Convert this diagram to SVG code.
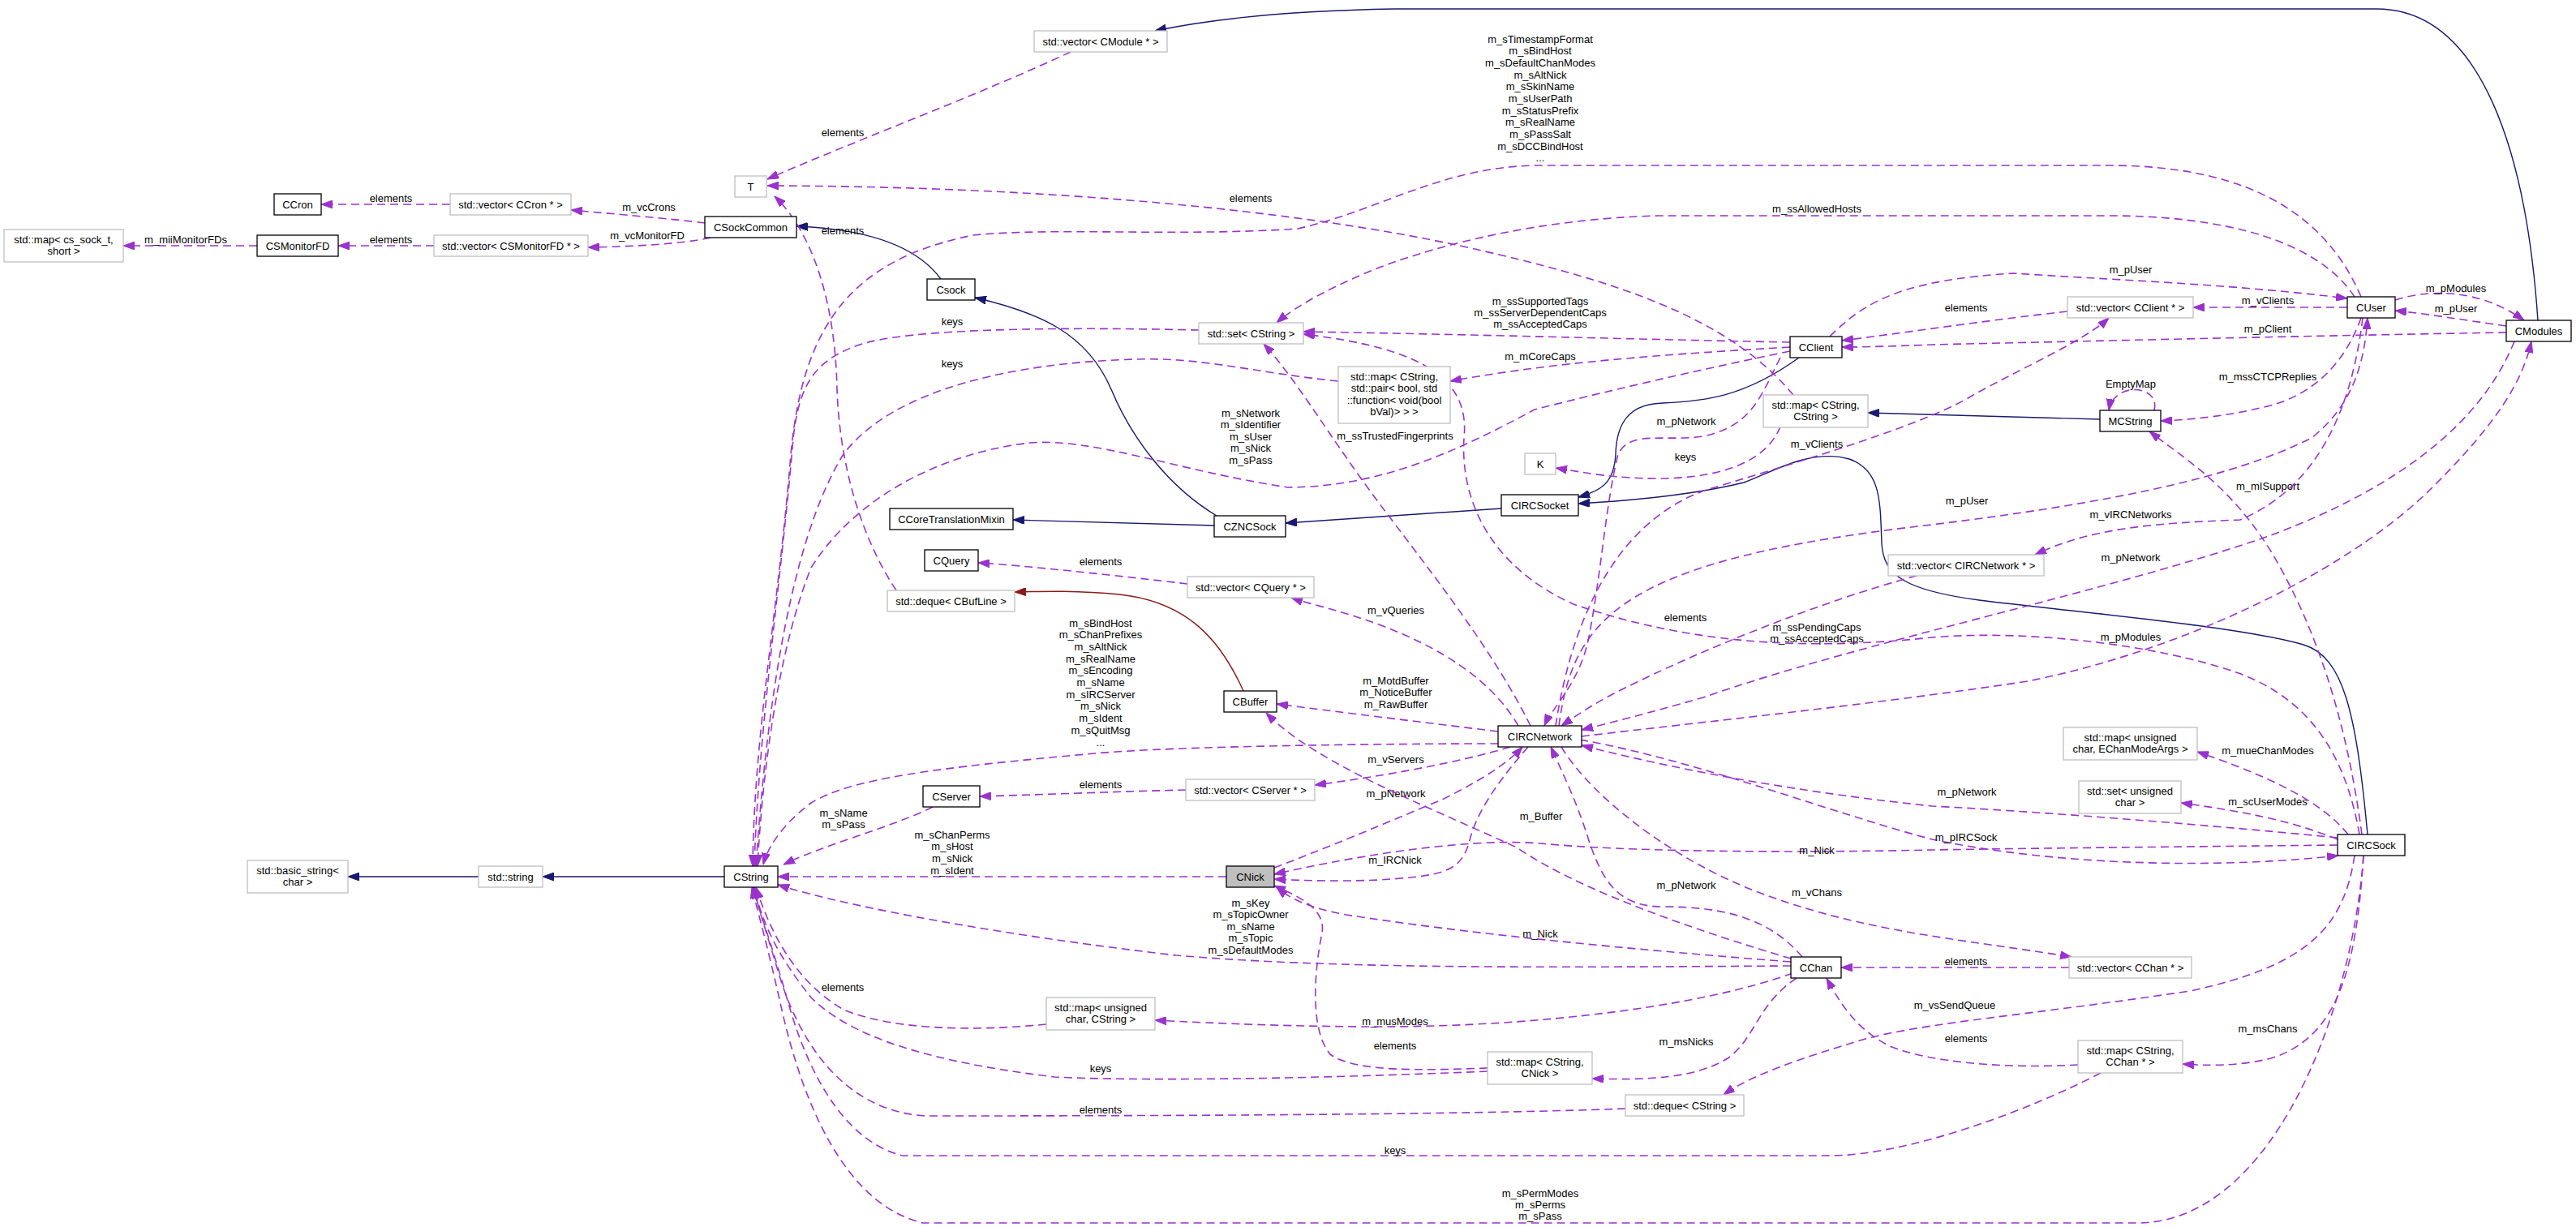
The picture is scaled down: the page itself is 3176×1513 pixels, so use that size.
<svg xmlns="http://www.w3.org/2000/svg" width="3176" height="1513" viewBox="0 0 3176 1513">
<defs>
<style>
text{font-family:"Liberation Sans",Arial,Helvetica,sans-serif;font-size:13px;fill:#000}
.nd rect{fill:#fff;stroke:#000;stroke-width:1.3}
.gr rect{fill:#fff;stroke:#bfbfbf;stroke-width:1.3}
.fc rect{fill:#bfbfbf;stroke:#000;stroke-width:1.3}
.nd text,.gr text,.fc text,.lb{text-anchor:middle}
.e{fill:none;stroke:#9a32cd;stroke-width:1.6;stroke-dasharray:10 6;marker-end:url(#ap)}
.i{fill:none;stroke:#191970;stroke-width:1.4;marker-end:url(#an)}
.r{fill:none;stroke:#8b1a1a;stroke-width:1.4;marker-end:url(#ar)}
</style>
<marker id="ap" viewBox="0 0 14 10" refX="14" refY="5" markerWidth="14" markerHeight="10" markerUnits="userSpaceOnUse" orient="auto"><path d="M0,0 L14,5 L0,10 z" fill="#9a32cd" stroke="#9a32cd" stroke-width="1"/></marker>
<marker id="an" viewBox="0 0 14 10" refX="14" refY="5" markerWidth="14" markerHeight="10" markerUnits="userSpaceOnUse" orient="auto"><path d="M0,0 L14,5 L0,10 z" fill="#191970" stroke="#191970" stroke-width="1"/></marker>
<marker id="ar" viewBox="0 0 14 10" refX="14" refY="5" markerWidth="14" markerHeight="10" markerUnits="userSpaceOnUse" orient="auto"><path d="M0,0 L14,5 L0,10 z" fill="#8b1a1a" stroke="#8b1a1a" stroke-width="1"/></marker>
</defs>
<rect width="3176" height="1513" fill="#fff"/>

<g id="edges">
<!-- inheritance -->
<path class="i" d="M1160,344 C1135,310 1085,283 982,279"/>
<path class="i" d="M1500,636 C1440,600 1395,540 1370,480 C1340,410 1280,385 1202,367"/>
<path class="i" d="M1497,648 L1249,641"/>
<path class="i" d="M1851,627 L1585,645"/>
<path class="i" d="M2218,441 C2150,490 2100,495 2050,497 C2010,498 1993,520 1992,560 C1990,595 1975,605 1946,613"/>
<path class="i" d="M2919,1029 C2905,880 2890,810 2840,795 C2760,772 2560,755 2440,740 C2350,728 2322,710 2320,670 C2318,620 2320,580 2280,566 C2230,552 2180,585 2150,595 C2080,612 2000,618 1946,621"/>
<path class="i" d="M2589,517 L2303,509"/>
<path class="i" d="M3129,395 C3115,190 3060,11 2930,11 L1720,11 C1600,13 1500,22 1424,38"/>
<path class="i" d="M893,1081 L669,1081"/>
<path class="i" d="M590,1081 L429,1081"/>
<path class="r" d="M1533,852 C1505,790 1465,742 1380,733 C1330,728 1290,729 1251,730"/>

<!-- usage -->
<g id="e_vcron_ccron"><path class="e" d="M555,252 L396,252"/><text class="lb" x="482" y="248.5">elements</text></g>
<g id="e_csmon_map"><path class="e" d="M317,303 L152,303"/><text class="lb" x="229" y="299.5">m_miiMonitorFDs</text></g>
<g id="e_vmon_csmon"><path class="e" d="M535,303 L417,303"/><text class="lb" x="482" y="299.5">elements</text></g>
<g id="e_common_vcron"><path class="e" d="M869,275 C830,270 760,264 704,259"/><text class="lb" x="800" y="259.5">m_vcCrons</text></g>
<g id="e_common_vmon"><path class="e" d="M876,293 C840,301 780,304 725,305"/><text class="lb" x="798" y="294.5">m_vcMonitorFD</text></g>
<g id="e_vmod_t"><path class="e" d="M1320,64 C1200,120 1050,175 946,221"/><text class="lb" x="1039" y="167.5">elements</text></g>
<g id="e_mapcc_t"><path class="e" d="M2211,487 C2130,390 1990,345 1800,303 C1600,260 1300,230 946,229"/><text class="lb" x="1542" y="248.5">elements</text></g>
<g id="e_deque_t"><path class="e" d="M1105,728 C1060,660 1035,570 1032,480 C1030,380 1005,290 955,242"/><text class="lb" x="1039" y="288.5">elements</text></g>
<g id="e_mapcc_k"><path class="e" d="M2195,526 C2180,565 2130,590 2044,590 C1990,590 1955,583 1918,577"/><text class="lb" x="2078" y="567.5">keys</text></g>
<g id="e_user_cstring"><path class="e" d="M2911,366 C2870,270 2780,204 2600,204 L1899,204 C1780,204 1700,260 1600,282 C1450,292 1300,280 1200,290 C1050,320 990,400 975,560 C960,750 930,900 928,1068"/>
<text class="lb" x="1899" y="52.5"><tspan x="1899">m_sTimestampFormat</tspan><tspan x="1899" dy="14.7">m_sBindHost</tspan><tspan x="1899" dy="14.7">m_sDefaultChanModes</tspan><tspan x="1899" dy="14.7">m_sAltNick</tspan><tspan x="1899" dy="14.7">m_sSkinName</tspan><tspan x="1899" dy="14.7">m_sUserPath</tspan><tspan x="1899" dy="14.7">m_sStatusPrefix</tspan><tspan x="1899" dy="14.7">m_sRealName</tspan><tspan x="1899" dy="14.7">m_sPassSalt</tspan><tspan x="1899" dy="14.7">m_sDCCBindHost</tspan><tspan x="1899" dy="14.7">...</tspan></text></g>
<g id="e_set_cstring"><path class="e" d="M1478,407 C1300,403 1120,405 1060,425 C1000,445 985,480 978,540 C965,700 935,900 930,1068"/><text class="lb" x="1174" y="400.5">keys</text></g>
<g id="e_mappair_cstring"><path class="e" d="M1650,470 C1550,460 1480,440 1400,443 C1250,447 1100,480 1040,560 C990,640 950,800 932,1068"/><text class="lb" x="1174" y="452.5">keys</text></g>
<g id="e_client_cstring"><path class="e" d="M2207,433 C2100,455 1990,480 1892,505 C1790,560 1700,600 1588,601 C1450,580 1350,540 1270,546 C1150,560 1050,620 1000,700 C960,800 940,950 934,1068"/>
<text class="lb" x="1542" y="513.5"><tspan x="1542">m_sNetwork</tspan><tspan x="1542" dy="14.5">m_sIdentifier</tspan><tspan x="1542" dy="14.5">m_sUser</tspan><tspan x="1542" dy="14.5">m_sNick</tspan><tspan x="1542" dy="14.5">m_sPass</tspan></text></g>
<g id="e_net_cstring"><path class="e" d="M1847,917 C1700,917 1450,920 1350,929 C1150,947 1050,960 1000,990 C960,1020 945,1050 941,1066"/>
<text class="lb" x="1357" y="772.5"><tspan x="1357">m_sBindHost</tspan><tspan x="1357" dy="14.7">m_sChanPrefixes</tspan><tspan x="1357" dy="14.7">m_sAltNick</tspan><tspan x="1357" dy="14.7">m_sRealName</tspan><tspan x="1357" dy="14.7">m_sEncoding</tspan><tspan x="1357" dy="14.7">m_sName</tspan><tspan x="1357" dy="14.7">m_sIRCServer</tspan><tspan x="1357" dy="14.7">m_sNick</tspan><tspan x="1357" dy="14.7">m_sIdent</tspan><tspan x="1357" dy="14.7">m_sQuitMsg</tspan><tspan x="1357" dy="14.7">...</tspan></text></g>
<g id="e_server_cstring"><path class="e" d="M1150,995 C1100,1020 1020,1040 966,1066"/><text class="lb" x="1040" y="1006.5"><tspan x="1040">m_sName</tspan><tspan x="1040" dy="14">m_sPass</tspan></text></g>
<g id="e_nick_cstring"><path class="e" d="M1512,1081 L959,1081"/><text class="lb" x="1174" y="1033.5"><tspan x="1174">m_sChanPerms</tspan><tspan x="1174" dy="14.7">m_sHost</tspan><tspan x="1174" dy="14.7">m_sNick</tspan><tspan x="1174" dy="14.7">m_sIdent</tspan></text></g>
<g id="e_chan_cstring"><path class="e" d="M2208,1191 C1900,1193 1650,1195 1450,1178 C1250,1155 1050,1120 959,1091"/><text class="lb" x="1542" y="1117.5"><tspan x="1542">m_sKey</tspan><tspan x="1542" dy="14.5">m_sTopicOwner</tspan><tspan x="1542" dy="14.5">m_sName</tspan><tspan x="1542" dy="14.5">m_sTopic</tspan><tspan x="1542" dy="14.5">m_sDefaultModes</tspan></text></g>
<g id="e_chan_nick"><path class="e" d="M2208,1186 C2000,1170 1800,1150 1660,1128 C1615,1120 1590,1108 1574,1094"/><text class="lb" x="1899" y="1155.5">m_Nick</text></g>
<g id="e_mapuc_cstring"><path class="e" d="M1290,1263 C1200,1272 1100,1270 1040,1245 C980,1210 950,1150 932,1094"/><text class="lb" x="1039" y="1221.5">elements</text></g>
<g id="e_mapnick_cstring"><path class="e" d="M1834,1321 C1600,1331 1400,1333 1300,1328 C1150,1310 1050,1280 1000,1230 C960,1180 940,1140 930,1094"/><text class="lb" x="1357" y="1321.5">keys</text></g>
<g id="e_mapnick_nick"><path class="e" d="M1834,1317 C1750,1320 1670,1322 1640,1300 C1615,1270 1620,1200 1630,1150 C1635,1120 1600,1105 1571,1092"/><text class="lb" x="1720" y="1293.5">elements</text></g>
<g id="e_dequecs_cstring"><path class="e" d="M2004,1367 C1800,1375 1400,1376 1140,1376 C1050,1370 990,1300 960,1200 C945,1150 935,1120 929,1094"/><text class="lb" x="1357" y="1372.5">elements</text></g>
<g id="e_mapchan_cstring"><path class="e" d="M2590,1323 C2500,1370 2350,1425 2256,1425 L1113,1425 C1050,1410 1000,1340 970,1230 C950,1160 935,1120 928,1094"/><text class="lb" x="1720" y="1422.5">keys</text></g>
<g id="e_sock_cstring"><path class="e" d="M2914,1055 C2900,1250 2800,1508 2635,1508 L1138,1508 C1060,1490 1000,1400 965,1250 C945,1160 933,1120 927,1094"/><text class="lb" x="1899" y="1475.5"><tspan x="1899">m_sPermModes</tspan><tspan x="1899" dy="14">m_sPerms</tspan><tspan x="1899" dy="14">m_sPass</tspan></text></g>
<g id="e_vserver_server"><path class="e" d="M1462,974 C1380,976 1280,980 1208,982"/><text class="lb" x="1357" y="971.5">elements</text></g>
<g id="e_vquery_query"><path class="e" d="M1464,720 C1380,710 1260,697 1206,694"/><text class="lb" x="1357" y="696.5">elements</text></g>
<g id="e_net_vquery"><path class="e" d="M1872,895 C1840,840 1780,800 1700,770 C1650,752 1615,745 1592,737"/><text class="lb" x="1721" y="756.5">m_vQueries</text></g>
<g id="e_net_buffer"><path class="e" d="M1847,902 C1750,890 1650,878 1574,868"/><text class="lb" x="1721" y="843.5"><tspan x="1721">m_MotdBuffer</tspan><tspan x="1721" dy="14.5">m_NoticeBuffer</tspan><tspan x="1721" dy="14.5">m_RawBuffer</tspan></text></g>
<g id="e_net_vserver"><path class="e" d="M1862,921 C1800,940 1700,958 1621,968"/><text class="lb" x="1721" y="940.5">m_vServers</text></g>
<g id="e_nick_net"><path class="e" d="M1571,1070 C1650,1040 1720,1010 1780,985 C1830,960 1860,940 1877,921"/><text class="lb" x="1721" y="982.5">m_pNetwork</text></g>
<g id="e_net_nick"><path class="e" d="M1884,921 C1850,960 1820,1000 1811,1040 C1800,1075 1780,1080 1700,1085 C1650,1087 1610,1086 1571,1084"/><text class="lb" x="1720" y="1064.5">m_IRCNick</text></g>
<g id="e_chan_buffer"><path class="e" d="M2208,1182 C2100,1150 1950,1100 1870,1045 C1750,990 1620,940 1561,879"/><text class="lb" x="1900" y="1010.5">m_Buffer</text></g>
<g id="e_chan_net"><path class="e" d="M2222,1180 C2180,1130 2120,1118 2050,1118 C1990,1118 1975,1080 1960,1040 C1945,990 1925,950 1912,921"/><text class="lb" x="2079" y="1095.5">m_pNetwork</text></g>
<g id="e_net_vchan"><path class="e" d="M1925,921 C1960,980 2060,1060 2170,1101 C2300,1150 2420,1158 2554,1180"/><text class="lb" x="2240" y="1104.5">m_vChans</text></g>
<g id="e_vchan_chan"><path class="e" d="M2551,1193 L2270,1193"/><text class="lb" x="2424" y="1189.5">elements</text></g>
<g id="e_chan_mapuc"><path class="e" d="M2210,1200 C2100,1240 1900,1266 1700,1266 C1600,1266 1500,1262 1424,1258"/><text class="lb" x="1720" y="1263.5">m_musModes</text></g>
<g id="e_chan_mapnick"><path class="e" d="M2215,1206 C2165,1240 2165,1280 2130,1305 C2090,1330 2030,1332 1963,1330"/><text class="lb" x="2079" y="1288.5">m_msNicks</text></g>
<g id="e_sock_dequecs"><path class="e" d="M2903,1055 C2890,1140 2850,1190 2700,1222 C2500,1252 2380,1260 2300,1281 C2220,1305 2160,1325 2125,1350"/><text class="lb" x="2410" y="1243.5">m_vsSendQueue</text></g>
<g id="e_mapchan_chan"><path class="e" d="M2562,1313 C2470,1318 2380,1310 2330,1290 C2290,1270 2270,1240 2252,1206"/><text class="lb" x="2424" y="1284.5">elements</text></g>
<g id="e_sock_mapchan"><path class="e" d="M2914,1055 C2905,1200 2880,1280 2800,1305 C2760,1315 2720,1314 2691,1312"/><text class="lb" x="2796" y="1272.5">m_msChans</text></g>
<g id="e_sock_mapecm"><path class="e" d="M2895,1029 C2860,985 2790,955 2709,927"/><text class="lb" x="2796" y="929.5">m_mueChanModes</text></g>
<g id="e_sock_setuc"><path class="e" d="M2882,1035 C2820,1010 2760,1000 2689,990"/><text class="lb" x="2796" y="992.5">m_scUserModes</text></g>
<g id="e_sock_net"><path class="e" d="M2882,1033 C2700,1015 2500,1000 2382,994 C2200,975 2050,945 1950,919"/><text class="lb" x="2425" y="980.5">m_pNetwork</text></g>
<g id="e_net_sock"><path class="e" d="M1948,912 C2100,940 2250,1000 2382,1035 C2550,1070 2750,1070 2883,1055"/><text class="lb" x="2424" y="1036.5">m_pIRCSock</text></g>
<g id="e_sock_nick"><path class="e" d="M2882,1042 C2700,1044 2500,1046 2382,1048 C2200,1052 2000,1050 1900,1040 C1800,1032 1650,1060 1571,1078"/><text class="lb" x="2240" y="1052.5">m_Nick</text></g>
<g id="e_sock_set"><path class="e" d="M2909,1029 C2890,920 2840,860 2760,830 C2660,795 2500,776 2382,786 C2250,800 2100,800 1940,745 C1840,700 1800,620 1805,540 C1812,470 1760,430 1607,412"/><text class="lb" x="2240" y="777.5"><tspan x="2240">m_ssPendingCaps</tspan><tspan x="2240" dy="14.7">m_ssAcceptedCaps</tspan></text></g>
<g id="e_sock_mcstring"><path class="e" d="M2912,1029 C2895,900 2860,780 2800,680 C2750,600 2700,570 2650,532"/><text class="lb" x="2796" y="603.5">m_mISupport</text></g>
<g id="e_modules_net"><path class="e" d="M3100,421 C3060,520 2960,600 2800,660 C2600,730 2300,790 2100,860 C2030,880 1990,890 1950,900"/><text class="lb" x="2627" y="691.5">m_pNetwork</text></g>
<g id="e_net_modules"><path class="e" d="M1950,908 C2100,890 2300,870 2500,840 C2700,800 2900,700 3000,600 C3080,520 3110,470 3121,421"/><text class="lb" x="2627" y="789.5">m_pModules</text></g>
<g id="e_net_user"><path class="e" d="M1922,895 C1940,760 2000,690 2382,647 C2600,620 2750,590 2850,540 C2900,500 2915,450 2919,392"/><text class="lb" x="2425" y="621.5">m_pUser</text></g>
<g id="e_user_vnet"><path class="e" d="M2913,392 C2900,500 2860,600 2762,641 C2660,645 2580,650 2509,684"/><text class="lb" x="2627" y="638.5">m_vIRCNetworks</text></g>
<g id="e_vnet_net"><path class="e" d="M2363,710 C2250,740 2100,800 2000,850 C1960,870 1940,885 1925,895"/><text class="lb" x="2078" y="765.5">elements</text></g>
<g id="e_net_vclient"><path class="e" d="M1918,895 C1940,750 2000,640 2104,604 C2250,560 2380,520 2433,487 C2500,450 2570,420 2600,392"/><text class="lb" x="2240" y="551.5">m_vClients</text></g>
<g id="e_client_net"><path class="e" d="M2195,441 C2170,490 2160,525 2100,538 C2050,545 2010,530 1995,560 C1980,620 1975,700 1960,780 C1950,840 1915,870 1904,895"/><text class="lb" x="2079" y="523.5">m_pNetwork</text></g>
<g id="e_net_set"><path class="e" d="M1887,895 C1840,800 1760,700 1700,620 C1640,540 1600,470 1558,424"/><text class="lb" x="1720" y="541.5">m_ssTrustedFingerprints</text></g>
<g id="e_client_set"><path class="e" d="M2207,422 C2000,418 1800,412 1607,409"/><text class="lb" x="1899" y="375.5"><tspan x="1899">m_ssSupportedTags</tspan><tspan x="1899" dy="14">m_ssServerDependentCaps</tspan><tspan x="1899" dy="14">m_ssAcceptedCaps</tspan></text></g>
<g id="e_client_mappair"><path class="e" d="M2207,428 C2000,440 1900,450 1788,470"/><text class="lb" x="1899" y="443.5">m_mCoreCaps</text></g>
<g id="e_user_set"><path class="e" d="M2903,366 C2860,300 2750,266 2600,266 L2044,266 C1900,270 1780,300 1700,330 C1650,350 1600,375 1574,398"/><text class="lb" x="2240" y="261.5">m_ssAllowedHosts</text></g>
<g id="e_client_user"><path class="e" d="M2256,415 C2300,370 2350,345 2483,337 C2600,345 2750,350 2894,368"/><text class="lb" x="2627" y="336.5">m_pUser</text></g>
<g id="e_user_vclient"><path class="e" d="M2894,379 L2704,379"/><text class="lb" x="2796" y="374.5">m_vClients</text></g>
<g id="e_vclient_client"><path class="e" d="M2549,384 C2450,395 2350,410 2271,420"/><text class="lb" x="2424" y="383.5">elements</text></g>
<g id="e_modules_user"><path class="e" d="M3090,402 C3040,395 3000,388 2953,383"/><text class="lb" x="3028" y="384.5">m_pUser</text></g>
<g id="e_user_modules"><path class="e" d="M2953,370 C3000,355 3060,358 3112,395"/><text class="lb" x="3028" y="359.5">m_pModules</text></g>
<g id="e_modules_client"><path class="e" d="M3090,410 C2900,413 2600,420 2382,425 C2330,427 2300,428 2271,428"/><text class="lb" x="2796" y="409.5">m_pClient</text></g>
<g id="e_mcstring_self"><path class="e" d="M2656,506 C2664,474 2606,470 2600,506"/><text class="lb" x="2627" y="477.5">EmptyMap</text></g>
<g id="e_user_mcstring"><path class="e" d="M2911,392 C2890,450 2850,490 2787,503 C2750,512 2700,518 2664,519"/><text class="lb" x="2796" y="468.5">m_mssCTCPReplies</text></g>
</g>

<g id="nodes">
<g id="n_map_cssock" class="gr"><rect x="5" y="283" width="147" height="40"/><text x="78.5" y="299.5">std::map&lt; cs_sock_t,</text><text x="78.5" y="313.5">short &gt;</text></g>
<g id="n_CSMonitorFD" class="nd"><rect x="317" y="290" width="100" height="26"/><text x="367" y="307.5">CSMonitorFD</text></g>
<g id="n_CCron" class="nd"><rect x="338" y="239" width="58" height="26"/><text x="367" y="256.5">CCron</text></g>
<g id="n_vec_CCron" class="gr"><rect x="555" y="239" width="149" height="26"/><text x="629.5" y="256.5">std::vector&lt; CCron * &gt;</text></g>
<g id="n_vec_CSMonitorFD" class="gr"><rect x="535" y="290" width="190" height="26"/><text x="630" y="307.5">std::vector&lt; CSMonitorFD * &gt;</text></g>
<g id="n_CSockCommon" class="nd"><rect x="869" y="267" width="113" height="26"/><text x="925.5" y="284.5">CSockCommon</text></g>
<g id="n_T" class="gr"><rect x="906" y="217" width="39" height="26"/><text x="925.5" y="234.5">T</text></g>
<g id="n_vec_CModule" class="gr"><rect x="1275" y="38" width="164" height="26"/><text x="1357" y="55.5">std::vector&lt; CModule * &gt;</text></g>
<g id="n_Csock" class="nd"><rect x="1143" y="344" width="59" height="26"/><text x="1172.5" y="361.5">Csock</text></g>
<g id="n_set_CString" class="gr"><rect x="1478" y="398" width="129" height="26"/><text x="1542.5" y="415.5">std::set&lt; CString &gt;</text></g>
<g id="n_CClient" class="nd"><rect x="2207" y="415" width="64" height="26"/><text x="2239" y="432.5">CClient</text></g>
<g id="n_map_pair" class="gr"><rect x="1650" y="452" width="138" height="70"/><text x="1719" y="468.5">std::map&lt; CString,</text><text x="1719" y="483">std::pair&lt; bool, std</text><text x="1719" y="497.5">::function&lt; void(bool</text><text x="1719" y="512">bVal)&gt; &gt; &gt;</text></g>
<g id="n_map_CString_CString" class="gr"><rect x="2174" y="487" width="129" height="40"/><text x="2238.5" y="503.5">std::map&lt; CString,</text><text x="2238.5" y="517.5">CString &gt;</text></g>
<g id="n_CUser" class="nd"><rect x="2894" y="366" width="59" height="26"/><text x="2923.5" y="383.5">CUser</text></g>
<g id="n_CModules" class="nd"><rect x="3090" y="395" width="80" height="26"/><text x="3130" y="412.5">CModules</text></g>
<g id="n_vec_CClient" class="gr"><rect x="2549" y="366" width="155" height="26"/><text x="2626.5" y="383.5">std::vector&lt; CClient * &gt;</text></g>
<g id="n_MCString" class="nd"><rect x="2589" y="506" width="75" height="26"/><text x="2626.5" y="523.5">MCString</text></g>
<g id="n_K" class="gr"><rect x="1880" y="559" width="38" height="26"/><text x="1899" y="576.5">K</text></g>
<g id="n_CIRCSocket" class="nd"><rect x="1851" y="610" width="95" height="26"/><text x="1898.5" y="627.5">CIRCSocket</text></g>
<g id="n_CCoreTranslationMixin" class="nd"><rect x="1097" y="627" width="152" height="26"/><text x="1173" y="644.5">CCoreTranslationMixin</text></g>
<g id="n_CZNCSock" class="nd"><rect x="1497" y="636" width="88" height="26"/><text x="1541" y="653.5">CZNCSock</text></g>
<g id="n_CQuery" class="nd"><rect x="1140" y="678" width="66" height="26"/><text x="1173" y="695.5">CQuery</text></g>
<g id="n_vec_CQuery" class="gr"><rect x="1464" y="711" width="156" height="26"/><text x="1542" y="728.5">std::vector&lt; CQuery * &gt;</text></g>
<g id="n_deque_CBufLine" class="gr"><rect x="1094" y="728" width="157" height="26"/><text x="1172.5" y="745.5">std::deque&lt; CBufLine &gt;</text></g>
<g id="n_vec_CIRCNetwork" class="gr"><rect x="2328" y="684" width="192" height="26"/><text x="2424" y="701.5">std::vector&lt; CIRCNetwork * &gt;</text></g>
<g id="n_CBuffer" class="nd"><rect x="1509" y="852" width="65" height="26"/><text x="1541.5" y="869.5">CBuffer</text></g>
<g id="n_CIRCNetwork" class="nd"><rect x="1847" y="895" width="103" height="26"/><text x="1898.5" y="912.5">CIRCNetwork</text></g>
<g id="n_map_EChanModeArgs" class="gr"><rect x="2544" y="897" width="165" height="40"/><text x="2626.5" y="913.5">std::map&lt; unsigned</text><text x="2626.5" y="927.5">char, EChanModeArgs &gt;</text></g>
<g id="n_CServer" class="nd"><rect x="1138" y="969" width="70" height="26"/><text x="1173" y="986.5">CServer</text></g>
<g id="n_vec_CServer" class="gr"><rect x="1462" y="961" width="159" height="26"/><text x="1541.5" y="978.5">std::vector&lt; CServer * &gt;</text></g>
<g id="n_set_uchar" class="gr"><rect x="2563" y="963" width="126" height="40"/><text x="2626" y="979.5">std::set&lt; unsigned</text><text x="2626" y="993.5">char &gt;</text></g>
<g id="n_CIRCSock" class="nd"><rect x="2882" y="1029" width="83" height="26"/><text x="2923.5" y="1046.5">CIRCSock</text></g>
<g id="n_basic_string" class="gr"><rect x="305" y="1061" width="124" height="40"/><text x="367" y="1077.5">std::basic_string&lt;</text><text x="367" y="1091.5">char &gt;</text></g>
<g id="n_std_string" class="gr"><rect x="590" y="1068" width="79" height="26"/><text x="629.5" y="1085.5">std::string</text></g>
<g id="n_CString" class="nd"><rect x="893" y="1068" width="66" height="26"/><text x="926" y="1085.5">CString</text></g>
<g id="n_CNick" class="fc"><rect x="1512" y="1068" width="59" height="26"/><text x="1541.5" y="1085.5">CNick</text></g>
<g id="n_CChan" class="nd"><rect x="2208" y="1180" width="62" height="26"/><text x="2239" y="1197.5">CChan</text></g>
<g id="n_vec_CChan" class="gr"><rect x="2551" y="1180" width="151" height="26"/><text x="2626.5" y="1197.5">std::vector&lt; CChan * &gt;</text></g>
<g id="n_map_uchar_CString" class="gr"><rect x="1290" y="1230" width="134" height="40"/><text x="1357" y="1246.5">std::map&lt; unsigned</text><text x="1357" y="1260.5">char, CString &gt;</text></g>
<g id="n_map_CString_CChan" class="gr"><rect x="2562" y="1283" width="129" height="40"/><text x="2626.5" y="1299.5">std::map&lt; CString,</text><text x="2626.5" y="1313.5">CChan * &gt;</text></g>
<g id="n_map_CString_CNick" class="gr"><rect x="1834" y="1297" width="129" height="40"/><text x="1898.5" y="1313.5">std::map&lt; CString,</text><text x="1898.5" y="1327.5">CNick &gt;</text></g>
<g id="n_deque_CString" class="gr"><rect x="2004" y="1350" width="146" height="26"/><text x="2077" y="1367.5">std::deque&lt; CString &gt;</text></g>
</g>
</svg>
